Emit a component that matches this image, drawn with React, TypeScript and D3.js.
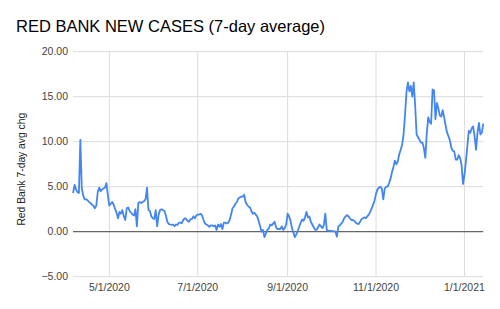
import React from 'react';
import * as d3 from 'd3';

// daily 7-day avg, starting 4/6/2020
const startDay = '4/6/2020';
const aprilValues = [4.3, 5.2, 4.7, 4.4, 4.3, 10.2, 4.8, 4.0, 3.6, 3.6, 3.5, 3.3, 3.2, 3.0, 2.9, 2.6, 2.9, 4.4, 4.9, 4.5, 4.7, 4.8, 4.9, 5.4, 4.0];
const mayValues = [2.9, 3.1, 3.3, 3.0, 2.5, 2.1, 1.5, 2.2, 2.0, 2.4, 1.7, 1.3, 2.6, 2.7, 2.3, 2.1, 1.9, 1.8, 2.5, 0.6, 3.2, 3.3, 3.2, 3.3, 3.4, 3.6, 4.9, 2.4, 2.3, 1.7, 1.5];
const juneValues = [1.4, 2.4, 0.6, 1.9, 2.4, 2.5, 2.4, 2.3, 1.8, 1.1, 0.85, 0.8, 0.75, 0.8, 0.6, 0.8, 0.75, 1.0, 1.0, 0.95, 1.3, 1.5, 1.4, 1.2, 1.1, 1.4, 1.4, 1.7, 1.5, 1.8];
const julyValues = [1.9, 1.9, 2.0, 1.8, 1.3, 0.9, 0.8, 0.7, 0.55, 0.7, 0.7, 0.6, 0.7, 0.2, 0.8, 0.55, 0.85, 0.3, 1.0, 1.0, 0.9, 1.0, 1.3, 1.9, 2.6, 2.8, 3.1, 3.3, 3.7, 3.8, 3.9];
const augustValues = [3.9, 4.1, 3.3, 3.0, 2.8, 2.7, 2.3, 2.0, 2.1, 1.9, 1.7, 1.2, 0.6, 0.0, 0.2, -0.6, -0.2, 0.2, 0.35, 0.8, 0.7, 0.9, 1.1, 0.5, 0.3, 0.3, 0.3, 0.6, 0.2, 0.4, 0.8];
const septemberValues = [2.0, 1.7, 1.2, 0.4, -0.1, -0.6, -0.3, 0.1, 0.55, 1.0, 1.35, 1.2, 1.6, 2.2, 1.6, 1.7, 1.1, 0.8, 0.5, 0.2, 0.2, 0.5, 0.8, 0.6, 0.4, 0.75, 2.0, 0.2, 0.1, 0.1];
const octoberValues = [0.1, 0.05, 0.05, 0.0, -0.55, 0.6, 0.7, 0.9, 1.1, 1.5, 1.7, 1.85, 1.7, 1.5, 1.3, 1.3, 1.2, 1.0, 0.9, 0.85, 1.1, 1.4, 1.5, 1.6, 1.5, 1.7, 1.9, 2.2, 2.6, 3.0, 3.5];
const novemberValues = [4.2, 4.7, 4.9, 5.0, 4.8, 3.6, 4.8, 5.0, 5.0, 5.4, 5.9, 6.6, 7.2, 7.9, 7.5, 7.8, 8.6, 9.1, 9.7, 10.8, 13.0, 15.5, 16.6, 15.6, 16.2, 15.0, 16.6, 14.0, 10.8, 10.5];
const decemberValues = [10.2, 9.9, 9.9, 9.3, 8.2, 10.9, 12.7, 12.2, 12.0, 15.8, 15.7, 12.5, 14.3, 13.7, 12.9, 12.8, 13.5, 12.7, 11.8, 11.0, 10.6, 10.1, 9.3, 9.0, 8.9, 8.0, 8.0, 8.5, 8.2, 7.4, 5.3];
const januaryValues = [6.3, 7.8, 9.5, 11.2, 11.0, 11.5, 11.7, 10.6, 9.1, 11.0, 12.1, 10.8, 11.0, 12.0];

const xTickLabels = ['5/1/2020', '7/1/2020', '9/1/2020', '11/1/2020', '1/1/2021'];
const yTickValues = [-5, 0, 5, 10, 15, 20];

const title = 'RED BANK NEW CASES (7-day average)';
const yTitle = 'Red Bank 7-day avg chg';

const font = 'Arial, "Liberation Sans", sans-serif';

export default function App() {
  const width = 500, height = 309;
  const margin = { top: 51.7, right: 16, bottom: 32.3, left: 73.1 };

  const parse = d3.timeParse('%m/%d/%Y');
  const fmt = d3.timeFormat('%-m/%-d/%Y');
  const start = parse(startDay) as Date;

  const values = [
    ...aprilValues, ...mayValues, ...juneValues, ...julyValues, ...augustValues,
    ...septemberValues, ...octoberValues, ...novemberValues, ...decemberValues, ...januaryValues,
  ];
  const data = values.map((v, i) => ({ date: d3.timeDay.offset(start, i), value: v }));

  const x = d3.scaleTime()
    .domain(d3.extent(data, d => d.date) as [Date, Date])
    .range([margin.left, margin.left + 410.2]);
  const y = d3.scaleLinear()
    .domain([-5, 20])
    .range([height - margin.bottom, margin.top]);

  const line = d3.line<{ date: Date; value: number }>()
    .x(d => x(d.date))
    .y(d => y(d.value));

  const xTicks = xTickLabels.map(s => parse(s) as Date);
  const [x0, x1] = x.range();

  return (
    <svg width={width} height={height} style={{ position: 'absolute', left: 0, top: 0, background: '#fff' }}>
      <text x={16} y={32} fontFamily={font} fontSize={16.5} fill="#000">{title}</text>

      {/* gridlines */}
      {yTickValues.filter(v => v !== 0).map(v => (
        <line key={'h' + v} x1={x0} x2={x1} y1={y(v)} y2={y(v)} stroke="#dcdcdc" strokeWidth={1} />
      ))}
      {xTicks.map((d, i) => (
        <line key={'v' + i} x1={x(d)} x2={x(d)} y1={y(20)} y2={y(-5)} stroke="#dcdcdc" strokeWidth={1} />
      ))}
      <line x1={x0} x2={x1} y1={y(0)} y2={y(0)} stroke="#666" strokeWidth={1.2} />

      {/* y labels */}
      {yTickValues.map(v => (
        <text key={'yl' + v} x={68} y={y(v)} dy="0.35em" textAnchor="end" fontFamily={font} fontSize={10.5} fill="#444">
          {d3.format('.2f')(v)}
        </text>
      ))}
      {/* x labels */}
      {xTicks.map((d, i) => (
        <text key={'xl' + i} x={x(d)} y={291} textAnchor="middle" fontFamily={font} fontSize={10.5} fill="#444">
          {fmt(d)}
        </text>
      ))}

      <text transform={`translate(25,${(y(20) + y(-5)) / 2 + 5}) rotate(-90)`} textAnchor="middle" fontFamily={font} fontSize={10.3} fill="#222">
        {yTitle}
      </text>

      <path d={line(data) || ''} fill="none" stroke="#4285f4" strokeWidth={1.8} strokeLinejoin="round" />
    </svg>
  );
}
